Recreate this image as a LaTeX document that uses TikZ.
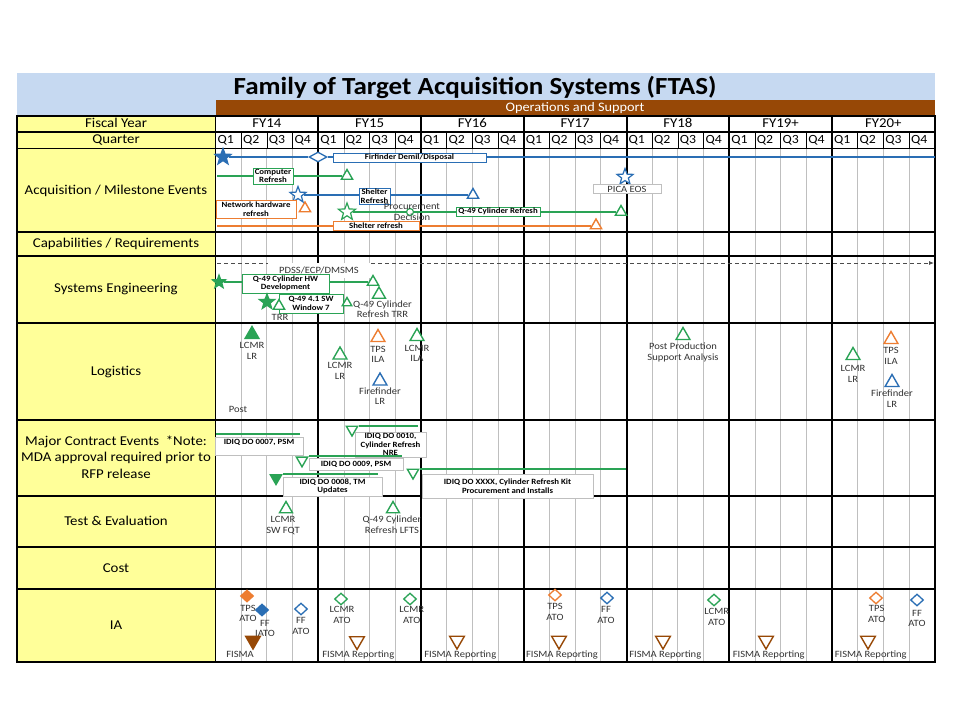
\documentclass[tikz,border=0pt]{standalone}
\usepackage{fontspec}
\setmainfont{Carlito}[FakeStretch=1.1]
\usetikzlibrary{shapes.geometric,arrows.meta}
\definecolor{ylw}{HTML}{FFFF99}
\definecolor{lblue}{HTML}{C6D9F1}
\definecolor{brn}{HTML}{974806}
\definecolor{grn}{HTML}{2AA355}
\definecolor{blu}{HTML}{2A6EB4}
\definecolor{org}{HTML}{ED7D31}
\definecolor{gline}{HTML}{BFBFBF}
\definecolor{txt}{HTML}{333333}
\newcommand\myTitleFont{\fontsize{24.6}{28}\selectfont\bfseries}
\newcommand\myOpsFont{\fontsize{13}{15}\selectfont}
\newcommand\myHdrFont{\fontsize{13.5}{16.7}\selectfont}
\newcommand\myQFont{\fontsize{12.5}{14}\selectfont}
\newcommand\myLblFont{\fontsize{9.6}{10.5}\selectfont}
\newcommand\myBxFont{\fontsize{8}{8.5}\selectfont\bfseries}
\begin{document}
\begin{tikzpicture}[x=1pt,y=-1pt,
 hdr/.style={font=\myHdrFont, text=black, align=center, inner sep=0pt},
 hdr1/.style={hdr, text height=9pt, text depth=2.5pt},
 qlbl/.style={font=\myQFont, text=black, anchor=west, inner sep=0pt, text height=8.5pt, text depth=2.5pt},
 lbl/.style={font=\myLblFont, text=txt, align=center, inner sep=0pt},
 bx/.style={draw=#1, fill=white, line width=0.8pt, font=\myBxFont, text=black, align=center, inner sep=0.3pt},
 cbx/.style={draw=black!25, fill=white, line width=0.6pt, font=\myBxFont, text=black, align=center, inner sep=0.3pt},
 tri/.style={regular polygon, regular polygon sides=3, inner sep=0pt, minimum size=16pt, line width=1.4pt, draw=#1, fill=white},
 trif/.style={tri=#1, fill=#1},
 dtri/.style={tri=#1, shape border rotate=180},
 dtrif/.style={dtri=#1, fill=#1},
 dia/.style={diamond, inner sep=0pt, minimum width=13pt, minimum height=12pt, line width=1.3pt, draw=#1, fill=white},
 diaf/.style={dia=#1, fill=#1},
 staro/.style={star, star points=5, star point ratio=2.4, inner sep=0pt, minimum size=17pt, line width=1.2pt, draw=#1, fill=white},
 starf/.style={staro=#1, fill=#1},
 cl/.style={draw=#1, line width=2pt},
]
\useasboundingbox (0,0) rectangle (960,720);
\fill[white] (0,0) rectangle (960,720);
% bands
\fill[lblue] (17,73) rectangle (935,100);
\fill[lblue] (17,100) rectangle (215.5,116);
\fill[brn] (215.5,100) rectangle (935,116);
\fill[ylw] (17,116) rectangle (215.5,662);
\node[font=\myTitleFont] (title) at (475,87) {Family of Target Acquisition Systems (FTAS)};
\node[font=\myOpsFont, text=white] (ops) at (575,108) {Operations and Support};
% grid
\foreach \f in {0,...,6}{
  \foreach \k in {1,2,3}{
    \draw[gline, line width=0.8pt] ({215.5+102.75*\f+25.6875*\k},148.5) -- ({215.5+102.75*\f+25.6875*\k},662);
    \draw[black, line width=0.7pt] ({215.5+102.75*\f+25.6875*\k},132) -- ({215.5+102.75*\f+25.6875*\k},148.5);
  }
}
\foreach \yy in {132,148.5,232,256,323,420,496,547,589}{
  \draw[black, line width=1.2pt] (17,\yy) -- (935,\yy);
}
\foreach \f in {1,...,6}{
  \draw[black, line width=2pt] ({215.5+102.75*\f},116) -- ({215.5+102.75*\f},662);
}
\draw[black, line width=1.5pt] (215.5,116) -- (215.5,662);
\draw[black, line width=1.5pt] (17,116) rectangle (935,662);
% header labels
\foreach \n [count=\i from 0] in {FY14,FY15,FY16,FY17,FY18,FY19+,FY20+}{
  \node[hdr1] (fy\i) at ({215.5+102.75*(\i+0.5)},124.5) {\n};
  \foreach \k in {1,2,3,4}{
    \node[qlbl] (q\i\k) at ({215.5+102.75*\i+25.6875*(\k-1)+1.8},140.5) {Q\k};
  }
}
\node[hdr1] (hFY) at (116,124.5) {Fiscal Year};
\node[hdr1] (hQ) at (116,140.5) {Quarter};
\node[hdr] (hAcq) at (116,190.5) {Acquisition / Milestone Events};
\node[hdr] (hCap) at (116,244) {Capabilities / Requirements};
\node[hdr] (hSE) at (116,289.5) {Systems Engineering};
\node[hdr] (hLog) at (116,371.5) {Logistics};
\node[hdr] (hMC) at (116,457) {Major Contract Events\ \ *Note:\\MDA approval required prior to\\RFP release};
\node[hdr] (hTE) at (116,521) {Test \& Evaluation};
\node[hdr] (hCost) at (116,568) {Cost};
\node[hdr] (hIA) at (116,625.5) {IA};
% ---------- Acquisition / Milestone ----------
\node[starf=blu] (A1) at (223,157) {};
\node[dia=blu, minimum width=18pt, minimum height=10pt] (A2) at (318,157) {};
\coordinate (A1e) at (935,157);
\node[tri=grn, minimum size=13pt] (A3) at (347,176) {};
\coordinate (A3s) at (217,176);
\node[staro=blu] (A4) at (298,195) {};
\node[tri=blu, minimum size=13pt] (A5) at (473,195) {};
\node[tri=org, minimum size=13pt] (A6) at (305,208.5) {};
\node[staro=grn, minimum size=18pt] (A7) at (347,212) {};
\node[tri=grn, minimum size=13pt] (A8) at (621,212) {};
\node[tri=org, minimum size=13pt] (A9) at (596,225.5) {};
\coordinate (A9s) at (217,225.5);
\node[staro=blu] (A10) at (625,177) {};
\draw[cl=blu] (A1) -- (A2);
\draw[cl=blu] (A2) -- (A1e);
\draw[cl=grn] (A3s) -- (A3);
\draw[cl=blu] (A4) -- (A5);
\draw[cl=grn] (A7) -- (A8);
\draw[cl=org] (A9s) -- (A9);
\node[circle, draw=grn, line width=1.2pt, fill=white, minimum size=7pt, inner sep=0pt] (A11) at (410,212) {};
\node[bx=blu, minimum width=153pt, minimum height=9pt] (B1) at (409.5,157.5) {Firfinder Demil/Disposal};
\node[bx=grn, minimum width=40pt, minimum height=16pt] (B2) at (273,176) {Computer\\Refresh};
\node[bx=blu, minimum width=31pt, minimum height=16pt] (B3) at (374.5,196) {Shelter\\Refresh};
\node[bx=org, minimum width=80pt, minimum height=18pt] (B4) at (256,209) {Network hardware\\refresh};
\node[bx=grn, minimum width=84pt, minimum height=9pt] (B5) at (498,211.5) {Q-49 Cylinder Refresh};
\node[bx=org, minimum width=86pt, minimum height=9pt] (B6) at (376,225.5) {Shelter refresh};
\node[cbx, font=\myLblFont, text=txt, minimum width=68pt, minimum height=8.5pt] (B7) at (627,189) {PICA EOS};
\node[lbl] (PDec) at (412,212) {Procurement\\Decision};
% ---------- Systems Engineering ----------
\coordinate (D0) at (217,263);
\coordinate (D1) at (934,263);
\draw[black!70, line width=0.8pt, dash pattern=on 4pt off 3pt, -{Latex[length=5pt,width=4pt]}] (D0) -- (D1);
\node[lbl, fill=white, minimum width=102pt, minimum height=15pt] (PD) at (319,270) {PDSS/ECP/DMSMS};
\node[starf=grn, minimum size=14pt] (S1) at (219,282) {};
\node[tri=grn, minimum size=13pt] (S2) at (373,282) {};
\draw[cl=grn] (S1) -- (S2);
\node[bx=grn, minimum width=87pt, minimum height=19pt] (B8) at (285.5,283.5) {Q-49 Cylinder HW\\Development};
\node[tri=grn, minimum size=15pt] (S3) at (379,294.5) {};
\node[starf=grn, minimum size=16pt] (S4) at (267,302) {};
\node[bx=grn, minimum width=64pt, minimum height=19pt] (B9) at (311,303.5) {Q-49 4.1 SW\\Window 7};
\node[tri=grn, minimum size=13pt] (S5) at (279,306) {};
\node[lbl] (TRR) at (280,317) {TRR};
\node[tri=grn, minimum size=11pt] (S6) at (347,303) {};
\node[lbl] (SL) at (382.5,309) {Q-49 Cylinder\\Refresh TRR};
% ---------- Logistics ----------
\node[trif=grn] (L1) at (252,334.5) {};
\node[lbl] (L1t) at (252,351) {LCMR\\LR};
\node[lbl] (Lpost) at (238,409) {Post};
\node[tri=grn] (L2) at (340,355) {};
\node[lbl] (L2t) at (340,371) {LCMR\\LR};
\node[tri=org] (L3) at (378,337.5) {};
\node[lbl] (L3t) at (378,354.3) {TPS\\ILA};
\node[tri=blu] (L4) at (380,381) {};
\node[lbl] (L4t) at (380,396) {Firefinder\\LR};
\node[tri=grn] (L5) at (417,336.5) {};
\node[lbl] (L5t) at (417,353.3) {LCMR\\ILA};
\node[tri=grn] (L6) at (683,335.5) {};
\node[lbl] (L6t) at (683,352.2) {Post Production\\Support Analysis};
\node[tri=grn] (L7) at (853,355.5) {};
\node[lbl] (L7t) at (853,373.8) {LCMR\\LR};
\node[tri=org] (L8) at (891,339.5) {};
\node[lbl] (L8t) at (891,355.8) {TPS\\ILA};
\node[tri=blu] (L9) at (892,382.5) {};
\node[lbl] (L9t) at (892,398.7) {Firefinder\\LR};
% ---------- Major Contract Events ----------
\coordinate (C1a) at (216,434);
\coordinate (C1b) at (300,434);
\draw[cl=grn] (C1a) -- (C1b);
\node[cbx, minimum width=88pt, minimum height=18pt] (B10) at (259,446) {IDIQ DO 0007, PSM\\~};
\node[cbx, minimum width=71pt, minimum height=25pt] (B11) at (390.5,444.5) {IDIQ DO 0010,\\Cylinder Refresh\\NRE};
\node[dtri=grn, minimum size=13pt] (C2) at (352,429.5) {};
\coordinate (C2e) at (418,0);
\draw[cl=grn] (C2.corner 2) -- (C2.corner 2 -| C2e);
\node[cbx, minimum width=94pt, minimum height=12pt] (B12) at (356,464) {IDIQ DO 0009, PSM};
\node[dtri=grn, minimum size=13pt] (C3) at (302,460.3) {};
\coordinate (C3e) at (402,0);
\draw[cl=grn] (C3.corner 2) -- (C3.corner 2 -| C3e);
\node[cbx, minimum width=99pt, minimum height=19pt] (B13) at (332.5,486.5) {IDIQ DO 0008, TM\\Updates};
\node[dtrif=grn, minimum size=13pt] (C4) at (276,478) {};
\coordinate (C4e) at (378,0);
\draw[cl=grn] (C4.corner 2) -- (C4.corner 2 -| C4e);
\node[cbx, minimum width=171pt, minimum height=24pt] (B14) at (507.5,486) {IDIQ DO XXXX, Cylinder Refresh Kit\\Procurement and Installs};
\node[dtri=grn, minimum size=13pt] (C5) at (413,472.5) {};
\coordinate (C5e) at (626,0);
\draw[cl=grn] (C5.corner 2) -- (C5.corner 2 -| C5e);
% ---------- Test & Evaluation ----------
\node[tri=grn, minimum size=15pt] (T1) at (286,509) {};
\node[lbl] (T1t) at (283,525.5) {LCMR\\SW FQT};
\node[tri=grn, minimum size=15pt] (T2) at (393,509) {};
\node[lbl] (T2t) at (392,524.7) {Q-49 Cylinder\\Refresh LFTS};
% ---------- IA ----------
\node[diaf=org] (I1) at (247,596) {};
\node[lbl] (I1t) at (248,613.3) {TPS\\ATO};
\node[diaf=blu] (I2) at (262,610) {};
\node[lbl] (I2t) at (265,628.3) {FF\\IATO};
\node[dia=blu] (I3) at (301,609) {};
\node[lbl] (I3t) at (301,626) {FF\\ATO};
\node[dtrif=brn, minimum size=17pt] (I4) at (253,640.5) {};
\node[lbl] (I4t) at (240,654.3) {FISMA};
\node[dia=grn] (I5) at (341,599) {};
\node[lbl] (I5t) at (342,615) {LCMR\\ATO};
\node[dtri=brn, minimum size=17pt] (I6) at (357,641) {};
\node[lbl] (I6t) at (358.3,655) {FISMA Reporting};
\node[dia=grn] (I7) at (410,599) {};
\node[lbl] (I7t) at (411.7,615) {LCMR\\ATO};
\node[dtri=brn, minimum size=17pt] (I8) at (457,640.5) {};
\node[lbl] (I8t) at (460.3,655) {FISMA Reporting};
\node[dia=org] (I9) at (555,595) {};
\node[lbl] (I9t) at (555,612) {TPS\\ATO};
\node[dtri=brn, minimum size=17pt] (I10) at (559,640.5) {};
\node[lbl] (I10t) at (562,655) {FISMA Reporting};
\node[dia=blu] (I11) at (607,598) {};
\node[lbl] (I11t) at (606,615) {FF\\ATO};
\node[dtri=brn, minimum size=17pt] (I12) at (663,640.5) {};
\node[lbl] (I12t) at (665.3,654.5) {FISMA Reporting};
\node[dia=grn] (I13) at (714,600) {};
\node[lbl] (I13t) at (716.7,616.7) {LCMR\\ATO};
\node[dtri=brn, minimum size=17pt] (I14) at (766,640.5) {};
\node[lbl] (I14t) at (768.7,654.5) {FISMA Reporting};
\node[dia=org] (I15) at (876,598) {};
\node[lbl] (I15t) at (876.7,614) {TPS\\ATO};
\node[dtri=brn, minimum size=17pt] (I16) at (868,640.5) {};
\node[lbl] (I16t) at (870.7,654.5) {FISMA Reporting};
\node[dia=blu] (I17) at (917,600) {};
\node[lbl] (I17t) at (917,618.3) {FF\\ATO};
\end{tikzpicture}
\end{document}
